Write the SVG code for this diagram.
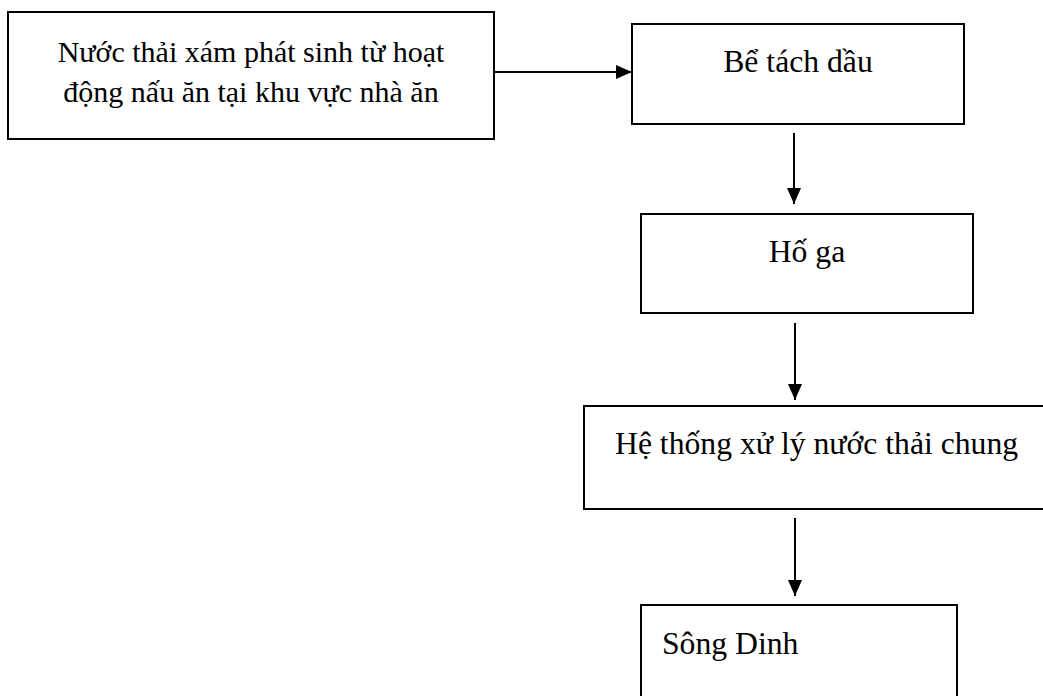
<svg xmlns="http://www.w3.org/2000/svg" width="1043" height="696" viewBox="0 0 1043 696">
  <style>
    .box { fill: #ffffff; stroke: #000000; stroke-width: 2; }
    .lbl { font-family: "Liberation Serif", "Times New Roman", serif; font-size: 31.7px; fill: #000000; }
    .small { font-size: 30px; }
    .mid { text-anchor: middle; }
    .flow { stroke: #000000; stroke-width: 2; fill: none; marker-end: url(#head); }
  </style>
  <defs>
    <marker id="head" viewBox="0 0 16 14" refX="16" refY="7" markerWidth="16" markerHeight="14" markerUnits="userSpaceOnUse" orient="auto">
      <path d="M0,0 L16,7 L0,14 Z" fill="#000000"/>
    </marker>
  </defs>
  <rect width="1043" height="696" fill="#ffffff"/>

  <g id="connectors">
    <line class="flow" x1="494" y1="72" x2="632" y2="72"/>
    <line class="flow" x1="794" y1="133" x2="794" y2="204"/>
    <line class="flow" x1="795" y1="323" x2="795" y2="400"/>
    <line class="flow" x1="795" y1="518" x2="795" y2="596"/>
  </g>

  <g id="source">
    <rect class="box" x="8" y="12" width="486" height="127"/>
    <text class="lbl small mid" x="251" y="62">Nước thải xám phát sinh từ hoạt</text>
    <text class="lbl small mid" x="251" y="102">động nấu ăn tại khu vực nhà ăn</text>
  </g>

  <g id="oil-separator">
    <rect class="box" x="632" y="24" width="332" height="100"/>
    <text class="lbl mid" x="798" y="72">Bể tách dầu</text>
  </g>

  <g id="manhole">
    <rect class="box" x="641" y="214" width="332" height="99"/>
    <text class="lbl mid" x="807" y="262">Hố ga</text>
  </g>

  <g id="treatment">
    <rect class="box" x="584" y="406" width="470" height="103"/>
    <text class="lbl" x="615" y="454">Hệ thống xử lý nước thải chung</text>
  </g>

  <g id="river">
    <rect class="box" x="641" y="605" width="316" height="110"/>
    <text class="lbl" x="662" y="654">Sông Dinh</text>
  </g>
</svg>
